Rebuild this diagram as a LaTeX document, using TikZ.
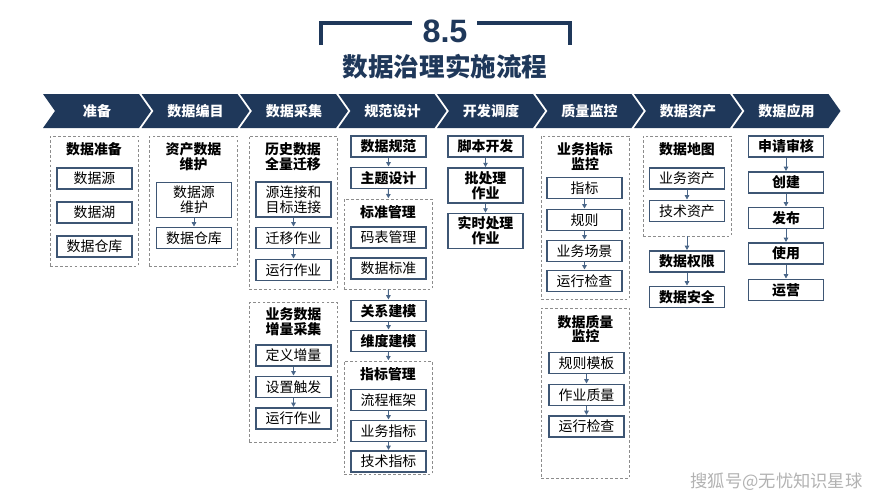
\documentclass[tikz,border=0pt]{standalone}
\usepackage{fontspec}
\setmainfont{Noto Sans CJK SC}
\newfontfamily\numfont{Liberation Sans}
\usepackage{tikz}
\usetikzlibrary{arrows.meta}
\usetikzlibrary{positioning}
\definecolor{navy}{RGB}{31,56,90}
\definecolor{boxline}{RGB}{62,86,116}
\definecolor{arrline}{RGB}{74,102,136}
\definecolor{dashline}{RGB}{140,140,140}

\begin{document}
\begin{tikzpicture}[x=0.025cm, y=-0.025cm,
      font=\fontsize{9.9pt}{10.6pt}\selectfont,
      box/.style ={rectangle, draw=boxline, line width=0.9pt, fill=white, inner sep=0pt,
                   minimum width=1.875cm, minimum height=0.525cm, align=center},
      tallbox/.style ={box, minimum height=0.87cm},
      bbox/.style ={box, font=\fontsize{9.9pt}{10.6pt}\selectfont\bfseries},
      tallbbox/.style ={tallbox, font=\fontsize{9.9pt}{10.6pt}\selectfont\bfseries},
      group/.style ={rectangle, draw=dashline, line width=0.5pt, dash pattern=on 2pt off 1.5pt,
                     minimum width=2.2cm, inner sep=0pt},
      gtitle/.style ={font=\fontsize{9.9pt}{10.6pt}\selectfont\bfseries, align=center, inner sep=0pt},
      arr/.style ={-{Triangle[length=3pt,width=3.2pt]}, draw=arrline, line width=0.6pt, shorten >=0.3pt},
      phase/.style ={fill=navy, draw=none}
    ]
    \useasboundingbox (0,0) rectangle (889,500);

    % title
    \draw [navy, line width=2.6pt] (321,45) -- (321,23) -- (412,23) ;
    \draw [navy, line width=2.6pt] (477,23) -- (570,23) -- (570,45) ;
    \node [text=navy, font=\numfont\fontsize{23pt}{23pt}\selectfont\bfseries] (num) at (445,31) {8.5} ;
    \node [text=navy, font=\fontsize{18.2pt}{18.2pt}\selectfont\bfseries] (title) at (445,67) {数据治理实施流程} ;

    % phase bar
    \foreach \lbl [count=\i from 0] in {准备,数据编目,数据采集,规范设计,开发调度,质量监控,数据资产,数据应用} {
      \pgfmathsetmacro{\xo}{43+98.5*\i}
      \fill [phase] (\xo,94) -- (\xo+96,94) -- (\xo+108,111) -- (\xo+96,128) -- (\xo,128) -- (\xo+12,111) -- cycle ;
      \node [text=white, font=\fontsize{10pt}{10pt}\selectfont\bfseries] (ph\i) at (\xo+54,111) {\lbl} ;
    }

    % 准备
    \node [group, minimum height=3.25cm] (gprep) at (94,201) {} ;
    \node [gtitle] (tprep) at (94,149) {数据准备} ;
    \node [box] (src) at (94.5,178.5) {数据源} ;
    \node [box] (lake) at (94.5,212.5) {数据湖} ;
    \node [box] (dw) at (94.5,246.5) {数据仓库} ;

    % 数据编目
    \node [group, minimum height=3.25cm] (gcat) at (193.5,201) {} ;
    \node [gtitle] (tcat) at (193.5,156.5) {资产数据\\维护} ;
    \node [tallbox] (srcm) at (194,200) {数据源\\维护} ;
    \node [box] (dwm) at (194,238) {数据仓库} ;
    \draw [arr] (srcm) -- (dwm) ;

    % 数据采集
    \node [group, minimum height=3.825cm] (gfull) at (293,212.5) {} ;
    \node [gtitle] (tfull) at (293,156.5) {历史数据\\全量迁移} ;
    \node [tallbox] (conn) at (293.5,199.5) {源连接和\\目标连接} ;
    \node [box] (mig) at (293.5,238) {迁移作业} ;
    \node [box] (runa) at (293.5,270) {运行作业} ;
    \draw [arr] (conn) -- (mig) ;
    \draw [arr] (mig) -- (runa) ;

    \node [group, minimum height=3.5cm] (ginc) at (293.5,372) {} ;
    \node [gtitle] (tinc) at (293.5,321.5) {业务数据\\增量采集} ;
    \node [box] (incr) at (293.5,355.5) {定义增量} ;
    \node [box] (trig) at (293.5,387) {设置触发} ;
    \node [box] (runb) at (293.5,418.5) {运行作业} ;
    \draw [arr] (incr) -- (trig) ;
    \draw [arr] (trig) -- (runb) ;

    % 规范设计
    \node [bbox] (spec) at (388.5,146.5) {数据规范} ;
    \node [bbox] (topic) at (388.5,178) {主题设计} ;
    \node [group, minimum height=2.25cm] (gstd) at (388,244) {} ;
    \node [gtitle] (tstd) at (388,212) {标准管理} ;
    \node [box] (code) at (388.5,237.5) {码表管理} ;
    \node [box] (std) at (388.5,268.5) {数据标准} ;
    \node [bbox] (rel) at (388.5,311) {关系建模} ;
    \node [bbox] (dim) at (388.5,341) {维度建模} ;
    \node [group, minimum height=2.825cm] (gind) at (388,417.5) {} ;
    \node [gtitle] (tind) at (388,374) {指标管理} ;
    \node [box] (flow) at (388.5,400) {流程框架} ;
    \node [box] (bind) at (388.5,431) {业务指标} ;
    \node [box] (tech) at (388.5,461.5) {技术指标} ;
    \draw [arr] (spec) -- (topic) ;
    \draw [arr] (topic) -- (gstd) ;
    \draw [arr] (gstd) -- (rel) ;
    \draw [arr] (rel) -- (dim) ;
    \draw [arr] (dim) -- (gind) ;
    \draw [arr] (flow) -- (bind) ;
    \draw [arr] (bind) -- (tech) ;

    % 开发调度
    \node [bbox] (script) at (485.5,146.5) {脚本开发} ;
    \node [tallbbox] (batch) at (485.5,185.5) {批处理\\作业} ;
    \node [tallbbox] (rt) at (485.5,231) {实时处理\\作业} ;
    \draw [arr] (script) -- (batch) ;
    \draw [arr] (batch) -- (rt) ;

    % 质量监控
    \node [group, minimum height=4.075cm] (gbiz) at (585,217.5) {} ;
    \node [gtitle] (tbiz) at (585,156.5) {业务指标\\监控} ;
    \node [box] (ind) at (584.5,188) {指标} ;
    \node [box] (rule) at (584.5,220) {规则} ;
    \node [box] (scene) at (584.5,251) {业务场景} ;
    \node [box] (chka) at (584.5,281) {运行检查} ;
    \draw [arr] (ind) -- (rule) ;
    \draw [arr] (rule) -- (scene) ;
    \draw [arr] (scene) -- (chka) ;

    \node [group, minimum height=4.25cm] (gqual) at (585.5,393) {} ;
    \node [gtitle] (tqual) at (585.5,329) {数据质量\\监控} ;
    \node [box] (tpl) at (586.5,363) {规则模板} ;
    \node [box] (jobq) at (586.5,395) {作业质量} ;
    \node [box] (chkb) at (586.5,426.5) {运行检查} ;
    \draw [arr] (tpl) -- (jobq) ;
    \draw [arr] (jobq) -- (chkb) ;

    % 数据资产
    \node [group, minimum height=2.5cm] (gmap) at (687,186) {} ;
    \node [gtitle] (tmap) at (687,149) {数据地图} ;
    \node [box] (basset) at (687,178.5) {业务资产} ;
    \node [box] (tasset) at (687,211) {技术资产} ;
    \node [bbox] (perm) at (687,261.5) {数据权限} ;
    \node [bbox] (sec) at (687,297) {数据安全} ;
    \draw [arr] (basset) -- (tasset) ;
    \draw [arr] (gmap) -- (perm) ;
    \draw [arr] (perm) -- (sec) ;

    % 数据应用
    \node [bbox] (apply) at (786,146.5) {申请审核} ;
    \node [bbox] (create) at (786,182.5) {创建} ;
    \node [bbox] (pub) at (786,218) {发布} ;
    \node [bbox] (use) at (786,253.5) {使用} ;
    \node [bbox] (ops) at (786,290) {运营} ;
    \draw [arr] (apply) -- (create) ;
    \draw [arr] (create) -- (pub) ;
    \draw [arr] (pub) -- (use) ;
    \draw [arr] (use) -- (ops) ;

    \node [text=gray!60, font=\fontsize{12.3pt}{12.3pt}\selectfont] (mark) at (776.5,482) {搜狐号@无忧知识星球} ;
  \end{tikzpicture}
\end{document}
